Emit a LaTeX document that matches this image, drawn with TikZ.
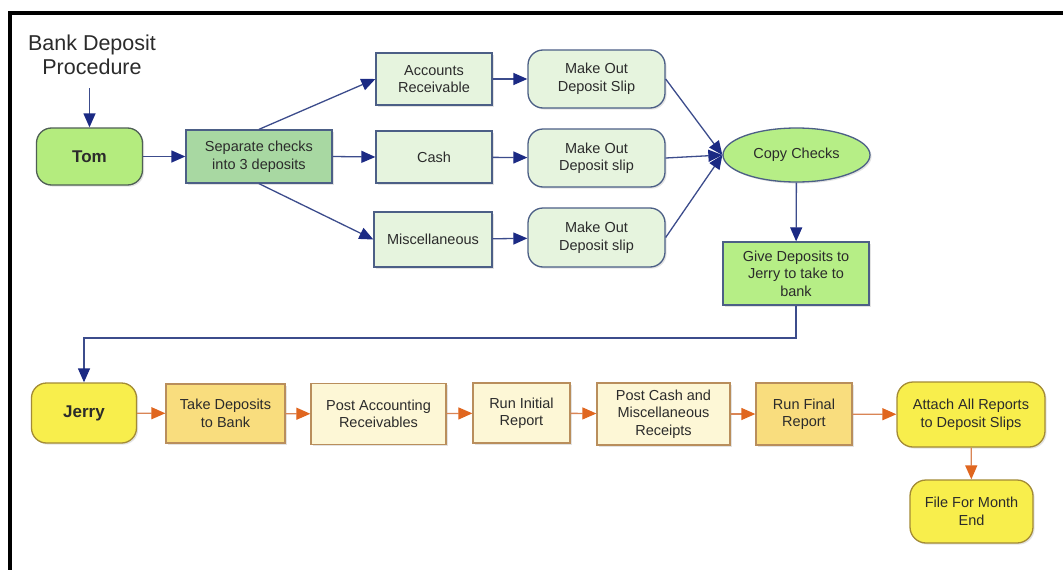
\documentclass[tikz,border=0pt]{standalone}
\usepackage{fontspec}
\setmainfont{Liberation Sans}
\usetikzlibrary{arrows.meta,shapes.geometric,shadows}

\definecolor{ink}{HTML}{2B2B2B}
\definecolor{tomfill}{HTML}{B4EC7E}
\definecolor{tomline}{HTML}{4F5F55}
\definecolor{sepfill}{HTML}{A8D8A2}
\definecolor{palegreen}{HTML}{E6F4DE}
\definecolor{brightgreen}{HTML}{B6EE86}
\definecolor{bluegray}{HTML}{4C5F86}
\definecolor{navy}{HTML}{1B2A84}
\definecolor{navyline}{HTML}{3C4C8C}
\definecolor{yellowfill}{HTML}{F8EE4C}
\definecolor{goldfill}{HTML}{F9DD7E}
\definecolor{creamfill}{HTML}{FDF7D6}
\definecolor{olive}{HTML}{A38B35}
\definecolor{tanline}{HTML}{B98E5C}
\definecolor{orangehead}{HTML}{E0661F}
\definecolor{orangeline}{HTML}{D98555}

\tikzset{
  box/.style={draw, line width=1.3pt, inner sep=0pt, align=center, text=ink,
    font=\fontsize{14.5}{17.5}\selectfont,
    drop shadow={shadow xshift=1.6pt, shadow yshift=-1.6pt, opacity=0.22}},
  greenbox/.style={box, draw=bluegray, fill=palegreen},
  greenround/.style={greenbox, rounded corners=15pt},
  person/.style={box, rounded corners=15pt, font=\fontsize{17}{20}\selectfont\bfseries},
  warmbox/.style={box, draw=tanline},
  yellowround/.style={box, draw=olive, fill=yellowfill, rounded corners=16pt},
  barrow/.style={draw=navyline, line width=1.3pt, -{Triangle[length=14pt,width=12pt,color=navy]}},
  oarrow/.style={draw=orangeline, line width=1.3pt, -{Triangle[length=14pt,width=12pt,color=orangehead]}},
}

\begin{document}
\begin{tikzpicture}[x=1pt,y=-1pt]
  \useasboundingbox (0,0) rectangle (1063,570);
  \fill[white] (0,0) rectangle (1063,570);
  % frame
  \fill[black] (8,11) rectangle (1063,15);
  \fill[black] (8,11) rectangle (12,570);

  % title
  \node[text=ink, align=center, font=\fontsize{21.5}{24}\selectfont] (title) at (92,55) {Bank Deposit\\Procedure};
  \coordinate (titlefoot) at (89.5,88);

  % upper row: Tom
  \node[person, draw=tomline, fill=tomfill, minimum width=106pt, minimum height=57pt] (tom) at (89.5,156.5) {Tom};
  \node[box, draw=bluegray, fill=sepfill, minimum width=146pt, minimum height=53pt] (sep) at (259,156.5) {Separate checks\\into 3 deposits};

  \node[greenbox, minimum width=116pt, minimum height=52pt] (acc) at (434,79) {Accounts\\Receivable};
  \node[greenbox, minimum width=116pt, minimum height=52pt] (cash) at (434,157) {Cash};
  \node[greenbox, minimum width=118pt, minimum height=55pt] (misc) at (433,239.5) {Miscellaneous};

  \node[greenround, minimum width=137pt, minimum height=58pt] (mk1) at (596.5,79) {Make Out\\Deposit Slip};
  \node[greenround, minimum width=137pt, minimum height=58pt] (mk2) at (596.5,158) {Make Out\\Deposit slip};
  \node[greenround, minimum width=137pt, minimum height=59pt] (mk3) at (596.5,237.5) {Make Out\\Deposit slip};

  \node[box, ellipse, draw=bluegray, fill=brightgreen, minimum width=147pt, minimum height=54pt] (copy) at (796.5,155) {Copy Checks};
  \node[box, draw=bluegray, fill=brightgreen, minimum width=146pt, minimum height=63pt] (give) at (796,273.5) {Give Deposits to\\Jerry to take to\\bank};

  % lower row: Jerry
  \node[person, draw=olive, fill=yellowfill, minimum width=105pt, minimum height=60pt] (jerry) at (84,413) {Jerry};
  \node[warmbox, fill=goldfill, minimum width=119pt, minimum height=59pt] (take) at (225.5,413.5) {Take Deposits\\to Bank};
  \node[warmbox, fill=creamfill, minimum width=135pt, minimum height=61pt] (postacc) at (378.5,414) {Post Accounting\\Receivables};
  \node[warmbox, fill=creamfill, minimum width=97pt, minimum height=60pt] (runinit) at (521.5,413) {Run Initial\\Report};
  \node[warmbox, fill=creamfill, minimum width=133pt, minimum height=62pt] (postcash) at (663.5,414) {Post Cash and\\Miscellaneous\\Receipts};
  \node[warmbox, fill=goldfill, minimum width=96pt, minimum height=62pt] (runfinal) at (804,414) {Run Final\\Report};
  \node[yellowround, minimum width=148pt, minimum height=65pt] (attach) at (971,414.5) {Attach All Reports\\to Deposit Slips};
  \node[yellowround, minimum width=123pt, minimum height=63pt] (file) at (971.5,511.5) {File For Month\\End};

  % connectors, upper row
  \draw[barrow] (titlefoot) -- (tom.north);
  \draw[barrow] (tom) -- (sep);
  \draw[barrow] (sep.north) -- (acc.west);
  \draw[barrow] (sep.east) -- (cash.west);
  \draw[barrow] (sep.south) -- (misc.west);
  \draw[barrow] (acc) -- (mk1);
  \draw[barrow] (cash) -- (mk2);
  \draw[barrow] (misc) -- (mk3);
  \draw[barrow] (mk1.east) -- (copy.west);
  \draw[barrow] (mk2.east) -- (copy.west);
  \draw[barrow] (mk3.east) -- (copy.west);
  \draw[barrow] (copy) -- (give);
  \coordinate (handoff) at (84,338);
  \draw[barrow] (give.south) |- (handoff) -- (jerry.north);

  % connectors, lower row
  \draw[oarrow] (jerry) -- (take);
  \draw[oarrow] (take) -- (postacc);
  \draw[oarrow] (postacc) -- (runinit);
  \draw[oarrow] (runinit) -- (postcash);
  \draw[oarrow] (postcash) -- (runfinal);
  \draw[oarrow] (runfinal) -- (attach);
  \draw[oarrow] (attach) -- (file);
\end{tikzpicture}
\end{document}
